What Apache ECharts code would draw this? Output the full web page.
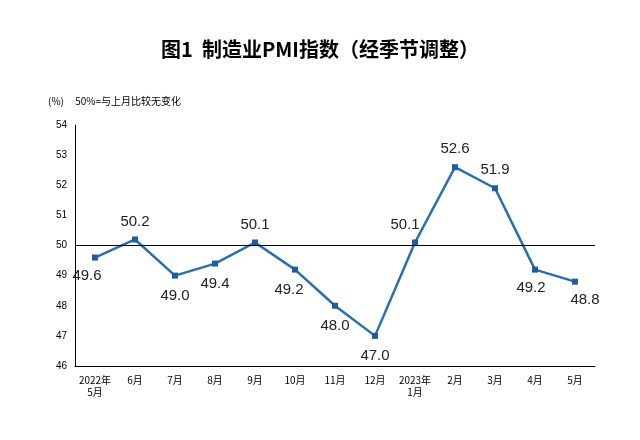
<!DOCTYPE html><html><head><meta charset="utf-8"><script src="https://cdn.jsdelivr.net/npm/echarts@6/dist/echarts.min.js"></script></head><body style="margin:0;background:#fff"><div id="c" style="width:640px;height:440px"></div><script>
const categories=['2022年\n5月','6月','7月','8月','9月','10月','11月','12月','2023年\n1月','2月','3月','4月','5月'];
const values=[49.6,50.2,49.0,49.4,50.1,49.2,48.0,47.0,50.1,52.6,51.9,49.2,48.8];
const labelPos=[[-8,18],[0,-18],[0,20],[0,20],[0,-18],[-6,20],[0,20],[0,20],[-10,-18],[0,-18],[0,-18],[-4,18],[10,18]];
const chart=echarts.init(document.getElementById('c'));
chart.setOption({
 title:{text:'图1  制造业PMI指数（经季节调整）',left:'center',top:34,textStyle:{fontSize:20,fontWeight:'bold',color:'#000',fontFamily:'Noto Sans CJK SC'}},
 graphic:[{type:'text',left:48,top:96,style:{text:'(%)     50%=与上月比较无变化',fontSize:10,fill:'#000',fontFamily:'Noto Sans CJK SC'}}],
 grid:{left:75,right:45,top:125,bottom:74},
 xAxis:{type:'category',data:categories,axisTick:{show:false},axisLine:{lineStyle:{color:'#000'}},axisLabel:{color:'#000',fontSize:10,interval:0,lineHeight:12,fontFamily:'Noto Sans CJK SC'}},
 yAxis:{type:'value',min:46,max:54,interval:1,splitLine:{show:false},axisLine:{show:true,lineStyle:{color:'#000'}},axisTick:{show:false},axisLabel:{color:'#000',fontSize:10}},
 series:[{type:'line',data:values.map((v,i)=>({value:v,label:{offset:labelPos[i]}})),symbol:'rect',symbolSize:6,
  itemStyle:{color:'#1f5c99'},lineStyle:{color:'#2a6ead',width:2.5},
  label:{show:true,position:'inside',formatter:p=>p.value.toFixed(1),fontSize:15,color:'#222',fontFamily:'Liberation Sans'},
  markLine:{silent:true,symbol:'none',label:{show:false},lineStyle:{color:'#000',width:1,type:'solid'},data:[{yAxis:50}]}}]
});
</script></body></html>
